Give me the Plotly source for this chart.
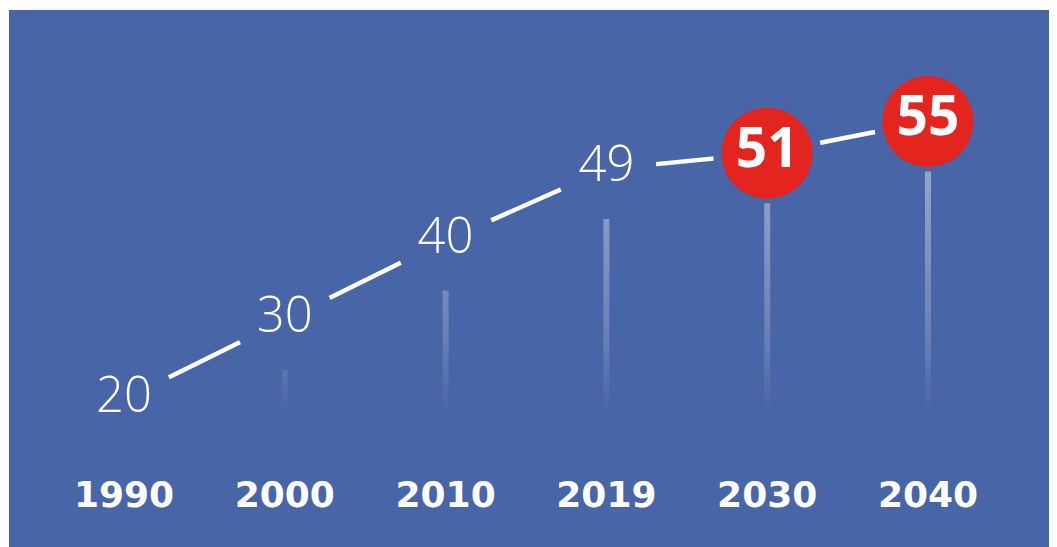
import plotly.graph_objects as go

# ---- data ----
years = ["1990", "2000", "2010", "2019", "2030", "2040"]
values = [20, 30, 40, 49, 51, 55]
highlight = [False, False, False, False, True, True]

# ---- style ----
BLUE = "#4865a7"
RED = "#e3241f"
W, H = 1057, 547
MARGIN = dict(l=0, r=0, t=0, b=85)
X_RANGE = [-0.7214, 5.852]
Y_RANGE = [11.11, 69.29]
STEM_BOTTOM_PX = 404   # pixel row (from figure top) where the stems fade out
STEM_GAP_PX = 50       # gap between a point and the top of its stem

plot_w = W - MARGIN["l"] - MARGIN["r"]
plot_h = H - MARGIN["t"] - MARGIN["b"]
px_x = plot_w / (X_RANGE[1] - X_RANGE[0])
px_y = plot_h / (Y_RANGE[1] - Y_RANGE[0])

xs = list(range(len(years)))

fig = go.Figure()

# connecting line (through all points, masked near labels)
fig.add_trace(go.Scatter(x=xs, y=values, mode="lines",
                         line=dict(color="white", width=4.5),
                         hoverinfo="skip", showlegend=False))
# masks that create gaps in the line around each label
fig.add_trace(go.Scatter(x=xs, y=values, mode="markers",
                         marker=dict(color=BLUE, opacity=1,
                                     size=[108 if h else 100 for h in highlight],
                                     line=dict(width=0)),
                         hoverinfo="skip", showlegend=False))

# vertical fading stems
gap = STEM_GAP_PX / px_y
bottom = Y_RANGE[0] + (MARGIN["t"] + plot_h - STEM_BOTTOM_PX) / px_y
half_w = 3 / px_x
stop = max(values) - gap
for x, v in zip(xs[1:], values[1:]):
    top = v - gap
    fig.add_trace(go.Scatter(
        x=[x - half_w, x + half_w, x + half_w, x - half_w, x - half_w],
        y=[bottom, bottom, top, top, bottom],
        mode="lines", line=dict(width=0, color="rgba(0,0,0,0)"), fill="toself",
        fillgradient=dict(type="vertical",
                          colorscale=[[0, "rgba(255,255,255,0)"],
                                      [0.3, "rgba(255,255,255,0.17)"],
                                      [1, "rgba(255,255,255,0.42)"]],
                          start=bottom, stop=stop),
        hoverinfo="skip", showlegend=False))

# red circles for projections
hx = [x for x, h in zip(xs, highlight) if h]
hv = [v for v, h in zip(values, highlight) if h]
fig.add_trace(go.Scatter(x=hx, y=hv, mode="markers+text",
                         marker=dict(color=RED, size=91, opacity=1, line=dict(width=0)),
                         text=[str(v) for v in hv], textposition="middle center",
                         textfont=dict(family="Open Sans", size=55,
                                       color="white", weight="bold"),
                         hoverinfo="skip", showlegend=False))

# plain value labels
px_ = [x for x, h in zip(xs, highlight) if not h]
pv = [v for v, h in zip(values, highlight) if not h]
fig.add_trace(go.Scatter(x=px_, y=pv, mode="text",
                         text=[str(v) for v in pv], textposition="middle center",
                         textfont=dict(family="Open Sans", size=49, color="white", weight=300),
                         hoverinfo="skip", showlegend=False))

# thin white strips so the white frame matches the reference (top 10px, left 9px)
fig.add_shape(type="rect", xref="paper", yref="paper", x0=-0.01, x1=1.01,
              y0=1 - 2 / plot_h, y1=1.01, fillcolor="white", line=dict(width=0), layer="above")
fig.add_shape(type="rect", xref="paper", yref="paper", x0=-0.01, x1=1 / plot_w,
              y0=-0.5, y1=1.01, fillcolor="white", line=dict(width=0), layer="above")

fig.update_layout(
    width=W, height=H, margin=MARGIN,
    paper_bgcolor=BLUE, plot_bgcolor=BLUE,
    showlegend=False,
)
fig.update_xaxes(range=X_RANGE, tickvals=xs, ticktext=years, showgrid=False,
                 zeroline=False, showline=False, ticks="",
                 tickfont=dict(family="DejaVu Sans", size=36, color="white", weight="bold"))
fig.update_yaxes(range=Y_RANGE, visible=False, showgrid=False, zeroline=False)

fig.write_html("out.html")
